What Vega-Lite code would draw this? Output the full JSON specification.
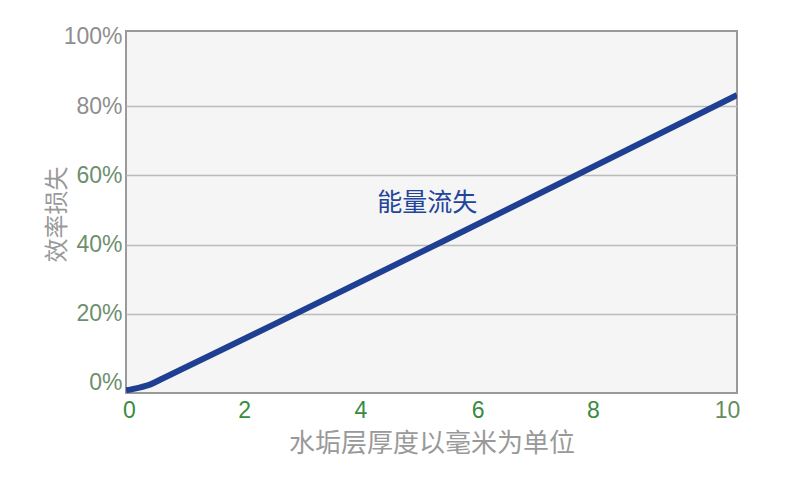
{
  "$schema": "https://vega.github.io/schema/vega-lite/v6.json",
  "width": 611,
  "height": 362,
  "autosize": "none",
  "padding": {"left": 126, "top": 31, "right": 63, "bottom": 87},
  "background": "white",
  "config": {
    "view": {"fill": "#f5f5f5", "stroke": "#9a9a9a", "strokeWidth": 2},
    "axis": {"labelFont": "Liberation Sans", "titleFont": "Noto Sans CJK SC", "titleFontWeight": "normal"}
  },
  "layer": [
    {
      "data": {
        "values": [
          {"thickness": 0, "loss": -2.1},
          {"thickness": 0.2, "loss": -1.4},
          {"thickness": 0.4, "loss": -0.4},
          {"thickness": 0.6, "loss": 1.3},
          {"thickness": 10, "loss": 83.2}
        ]
      },
      "mark": {"type": "line", "color": "#1f3f92", "strokeWidth": 6, "interpolate": "monotone", "clip": true},
      "encoding": {
        "x": {
          "field": "thickness",
          "type": "quantitative",
          "scale": {"domain": [0, 10], "nice": false},
          "title": "水垢层厚度以毫米为单位",
          "axis": {
            "values": [0, 2, 4, 6, 8, 10],
            "format": "d",
            "grid": false,
            "domain": false,
            "ticks": false,
            "labelFontSize": 23,
            "labelPadding": 6,
            "labelFlush": false,
            "labelColor": {"condition": {"test": "datum.value == 10", "value": "#5e8f5e"}, "value": "#3a8a3f"},
            "labelOffset": {
              "condition": [
                {"test": "datum.value == 0", "value": 3},
                {"test": "datum.value == 2", "value": -4},
                {"test": "datum.value == 4", "value": -10},
                {"test": "datum.value == 6", "value": -15},
                {"test": "datum.value == 8", "value": -22}
              ],
              "value": -10
            },
            "titleFontSize": 26,
            "titleColor": "#999999",
            "titleY": 50,
            "titleBaseline": "middle"
          }
        },
        "y": {
          "field": "loss",
          "type": "quantitative",
          "scale": {"domain": [-2.9, 101.7], "nice": false, "zero": false},
          "title": "效率损失",
          "axis": {
            "values": [0, 20, 40, 60, 80, 100],
            "labelExpr": "datum.value + '%'",
            "domain": false,
            "ticks": false,
            "labelFontSize": 23,
            "labelPadding": 4,
            "labelColor": {"condition": {"test": "datum.value >= 80", "value": "#8e8e8e"}, "value": "#6e8f6e"},
            "gridColor": {"condition": {"test": "datum.value == 0 || datum.value == 100", "value": "transparent"}, "value": "#bbbbbb"},
            "gridWidth": 1.5,
            "titleFontSize": 24,
            "titleColor": "#999999",
            "titleX": -69,
            "titleY": 183,
            "titleBaseline": "middle"
          }
        }
      }
    },
    {
      "data": {"values": [{"thickness": 4.93, "loss": 52, "label": "能量流失"}]},
      "mark": {"type": "text", "font": "Noto Sans CJK SC", "fontSize": 25, "color": "#22449a", "align": "center", "baseline": "middle"},
      "encoding": {
        "x": {"field": "thickness", "type": "quantitative"},
        "y": {"field": "loss", "type": "quantitative"},
        "text": {"field": "label"}
      }
    }
  ]
}
